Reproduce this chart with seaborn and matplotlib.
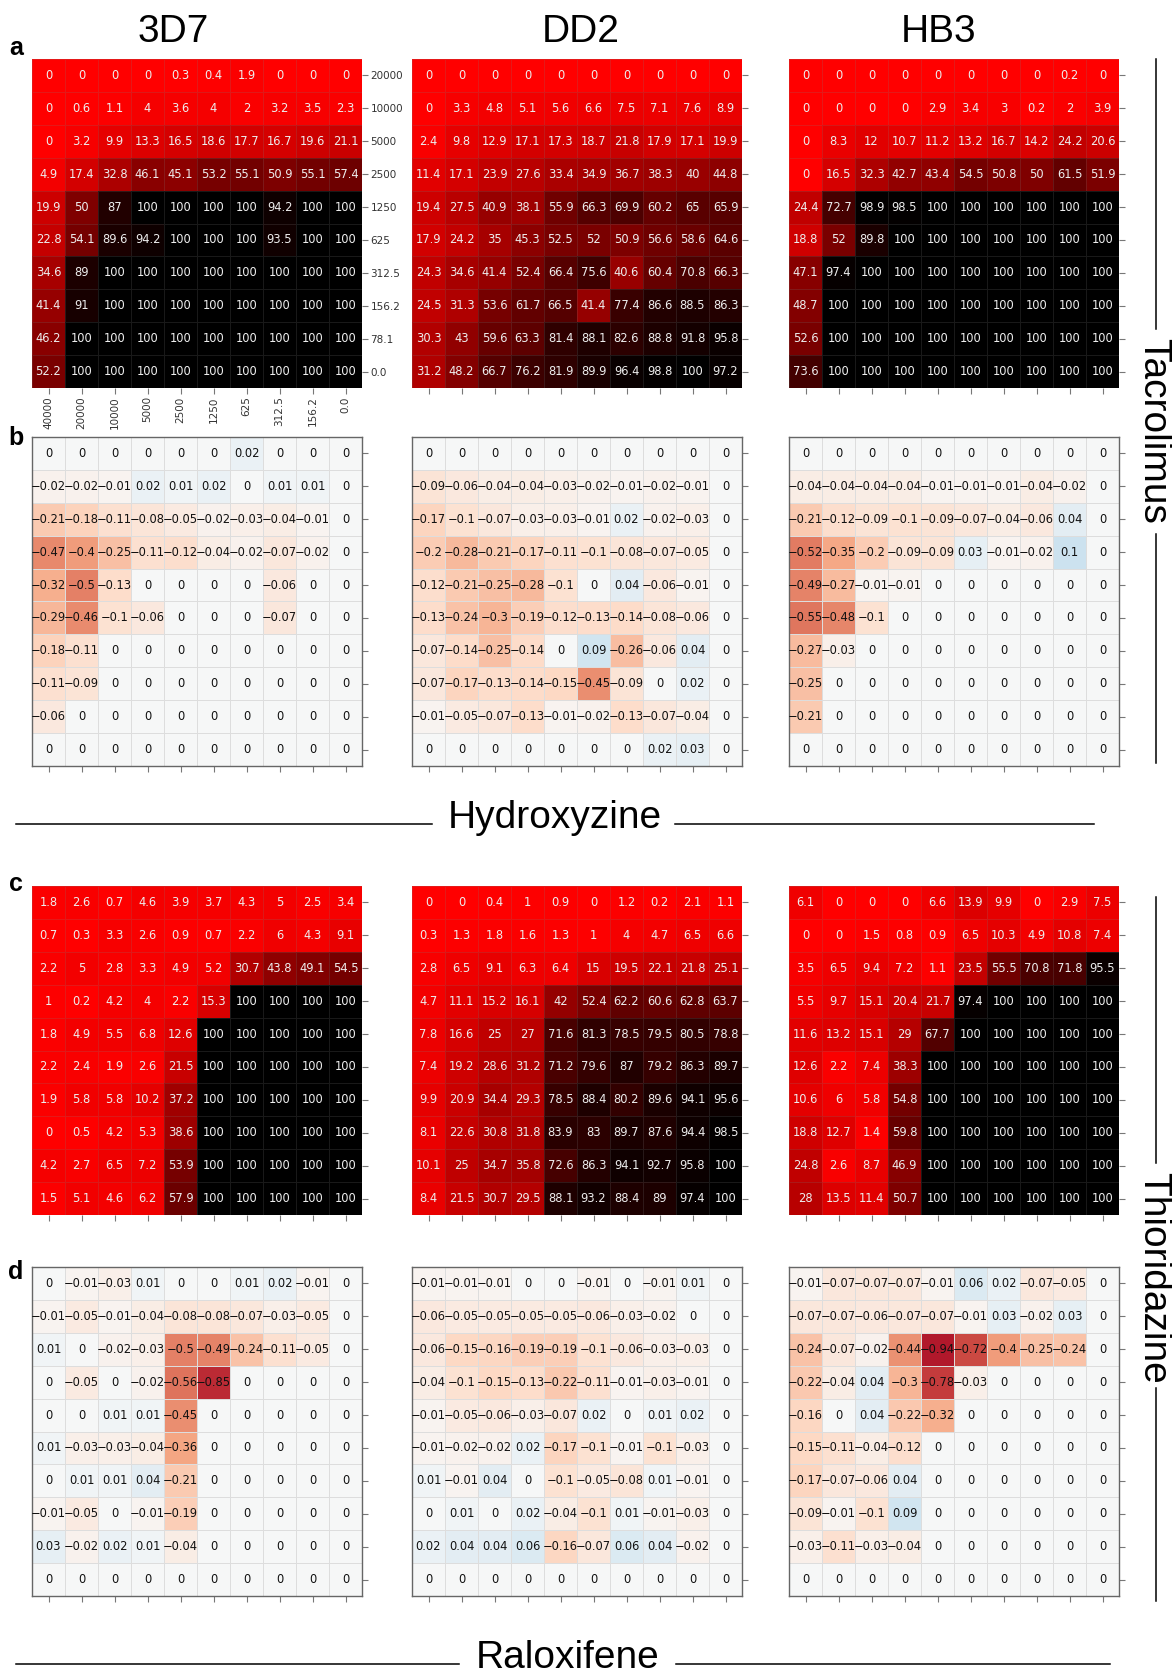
import numpy as np
import matplotlib.pyplot as plt
import seaborn as sns
from matplotlib.lines import Line2D
from matplotlib.colors import LinearSegmentedColormap, FuncNorm

# --- figure size in pixels ---
W, H = 1172, 1673

# --- concentration labels ---
y_conc = ["20000", "10000", "5000", "2500", "1250", "625", "312.5", "156.2", "78.1", "0.0"]
x_conc = ["40000", "20000", "10000", "5000", "2500", "1250", "625", "312.5", "156.2", "0.0"]
strains = ["3D7", "DD2", "HB3"]

# --- a: Tacrolimus x Hydroxyzine, growth inhibition (%) ---
tac_3d7 = [
    [0, 0, 0, 0, 0.3, 0.4, 1.9, 0, 0, 0],
    [0, 0.6, 1.1, 4, 3.6, 4, 2, 3.2, 3.5, 2.3],
    [0, 3.2, 9.9, 13.3, 16.5, 18.6, 17.7, 16.7, 19.6, 21.1],
    [4.9, 17.4, 32.8, 46.1, 45.1, 53.2, 55.1, 50.9, 55.1, 57.4],
    [19.9, 50, 87, 100, 100, 100, 100, 94.2, 100, 100],
    [22.8, 54.1, 89.6, 94.2, 100, 100, 100, 93.5, 100, 100],
    [34.6, 89, 100, 100, 100, 100, 100, 100, 100, 100],
    [41.4, 91, 100, 100, 100, 100, 100, 100, 100, 100],
    [46.2, 100, 100, 100, 100, 100, 100, 100, 100, 100],
    [52.2, 100, 100, 100, 100, 100, 100, 100, 100, 100],
]
tac_dd2 = [
    [0, 0, 0, 0, 0, 0, 0, 0, 0, 0],
    [0, 3.3, 4.8, 5.1, 5.6, 6.6, 7.5, 7.1, 7.6, 8.9],
    [2.4, 9.8, 12.9, 17.1, 17.3, 18.7, 21.8, 17.9, 17.1, 19.9],
    [11.4, 17.1, 23.9, 27.6, 33.4, 34.9, 36.7, 38.3, 40, 44.8],
    [19.4, 27.5, 40.9, 38.1, 55.9, 66.3, 69.9, 60.2, 65, 65.9],
    [17.9, 24.2, 35, 45.3, 52.5, 52, 50.9, 56.6, 58.6, 64.6],
    [24.3, 34.6, 41.4, 52.4, 66.4, 75.6, 40.6, 60.4, 70.8, 66.3],
    [24.5, 31.3, 53.6, 61.7, 66.5, 41.4, 77.4, 86.6, 88.5, 86.3],
    [30.3, 43, 59.6, 63.3, 81.4, 88.1, 82.6, 88.8, 91.8, 95.8],
    [31.2, 48.2, 66.7, 76.2, 81.9, 89.9, 96.4, 98.8, 100, 97.2],
]
tac_hb3 = [
    [0, 0, 0, 0, 0, 0, 0, 0, 0.2, 0],
    [0, 0, 0, 0, 2.9, 3.4, 3, 0.2, 2, 3.9],
    [0, 8.3, 12, 10.7, 11.2, 13.2, 16.7, 14.2, 24.2, 20.6],
    [0, 16.5, 32.3, 42.7, 43.4, 54.5, 50.8, 50, 61.5, 51.9],
    [24.4, 72.7, 98.9, 98.5, 100, 100, 100, 100, 100, 100],
    [18.8, 52, 89.8, 100, 100, 100, 100, 100, 100, 100],
    [47.1, 97.4, 100, 100, 100, 100, 100, 100, 100, 100],
    [48.7, 100, 100, 100, 100, 100, 100, 100, 100, 100],
    [52.6, 100, 100, 100, 100, 100, 100, 100, 100, 100],
    [73.6, 100, 100, 100, 100, 100, 100, 100, 100, 100],
]

# --- b: Tacrolimus x Hydroxyzine, difference from additivity ---
tac_diff_3d7 = [
    [0, 0, 0, 0, 0, 0, 0.02, 0, 0, 0],
    [-0.02, -0.02, -0.01, 0.02, 0.01, 0.02, 0, 0.01, 0.01, 0],
    [-0.21, -0.18, -0.11, -0.08, -0.05, -0.02, -0.03, -0.04, -0.01, 0],
    [-0.47, -0.4, -0.25, -0.11, -0.12, -0.04, -0.02, -0.07, -0.02, 0],
    [-0.32, -0.5, -0.13, 0, 0, 0, 0, -0.06, 0, 0],
    [-0.29, -0.46, -0.1, -0.06, 0, 0, 0, -0.07, 0, 0],
    [-0.18, -0.11, 0, 0, 0, 0, 0, 0, 0, 0],
    [-0.11, -0.09, 0, 0, 0, 0, 0, 0, 0, 0],
    [-0.06, 0, 0, 0, 0, 0, 0, 0, 0, 0],
    [0, 0, 0, 0, 0, 0, 0, 0, 0, 0],
]
tac_diff_dd2 = [
    [0, 0, 0, 0, 0, 0, 0, 0, 0, 0],
    [-0.09, -0.06, -0.04, -0.04, -0.03, -0.02, -0.01, -0.02, -0.01, 0],
    [-0.17, -0.1, -0.07, -0.03, -0.03, -0.01, 0.02, -0.02, -0.03, 0],
    [-0.2, -0.28, -0.21, -0.17, -0.11, -0.1, -0.08, -0.07, -0.05, 0],
    [-0.12, -0.21, -0.25, -0.28, -0.1, 0, 0.04, -0.06, -0.01, 0],
    [-0.13, -0.24, -0.3, -0.19, -0.12, -0.13, -0.14, -0.08, -0.06, 0],
    [-0.07, -0.14, -0.25, -0.14, 0, 0.09, -0.26, -0.06, 0.04, 0],
    [-0.07, -0.17, -0.13, -0.14, -0.15, -0.45, -0.09, 0, 0.02, 0],
    [-0.01, -0.05, -0.07, -0.13, -0.01, -0.02, -0.13, -0.07, -0.04, 0],
    [0, 0, 0, 0, 0, 0, 0, 0.02, 0.03, 0],
]
tac_diff_hb3 = [
    [0, 0, 0, 0, 0, 0, 0, 0, 0, 0],
    [-0.04, -0.04, -0.04, -0.04, -0.01, -0.01, -0.01, -0.04, -0.02, 0],
    [-0.21, -0.12, -0.09, -0.1, -0.09, -0.07, -0.04, -0.06, 0.04, 0],
    [-0.52, -0.35, -0.2, -0.09, -0.09, 0.03, -0.01, -0.02, 0.1, 0],
    [-0.49, -0.27, -0.01, -0.01, 0, 0, 0, 0, 0, 0],
    [-0.55, -0.48, -0.1, 0, 0, 0, 0, 0, 0, 0],
    [-0.27, -0.03, 0, 0, 0, 0, 0, 0, 0, 0],
    [-0.25, 0, 0, 0, 0, 0, 0, 0, 0, 0],
    [-0.21, 0, 0, 0, 0, 0, 0, 0, 0, 0],
    [0, 0, 0, 0, 0, 0, 0, 0, 0, 0],
]

# --- c: Thioridazine x Raloxifene, growth inhibition (%) ---
thio_3d7 = [
    [1.8, 2.6, 0.7, 4.6, 3.9, 3.7, 4.3, 5, 2.5, 3.4],
    [0.7, 0.3, 3.3, 2.6, 0.9, 0.7, 2.2, 6, 4.3, 9.1],
    [2.2, 5, 2.8, 3.3, 4.9, 5.2, 30.7, 43.8, 49.1, 54.5],
    [1, 0.2, 4.2, 4, 2.2, 15.3, 100, 100, 100, 100],
    [1.8, 4.9, 5.5, 6.8, 12.6, 100, 100, 100, 100, 100],
    [2.2, 2.4, 1.9, 2.6, 21.5, 100, 100, 100, 100, 100],
    [1.9, 5.8, 5.8, 10.2, 37.2, 100, 100, 100, 100, 100],
    [0, 0.5, 4.2, 5.3, 38.6, 100, 100, 100, 100, 100],
    [4.2, 2.7, 6.5, 7.2, 53.9, 100, 100, 100, 100, 100],
    [1.5, 5.1, 4.6, 6.2, 57.9, 100, 100, 100, 100, 100],
]
thio_dd2 = [
    [0, 0, 0.4, 1, 0.9, 0, 1.2, 0.2, 2.1, 1.1],
    [0.3, 1.3, 1.8, 1.6, 1.3, 1, 4, 4.7, 6.5, 6.6],
    [2.8, 6.5, 9.1, 6.3, 6.4, 15, 19.5, 22.1, 21.8, 25.1],
    [4.7, 11.1, 15.2, 16.1, 42, 52.4, 62.2, 60.6, 62.8, 63.7],
    [7.8, 16.6, 25, 27, 71.6, 81.3, 78.5, 79.5, 80.5, 78.8],
    [7.4, 19.2, 28.6, 31.2, 71.2, 79.6, 87, 79.2, 86.3, 89.7],
    [9.9, 20.9, 34.4, 29.3, 78.5, 88.4, 80.2, 89.6, 94.1, 95.6],
    [8.1, 22.6, 30.8, 31.8, 83.9, 83, 89.7, 87.6, 94.4, 98.5],
    [10.1, 25, 34.7, 35.8, 72.6, 86.3, 94.1, 92.7, 95.8, 100],
    [8.4, 21.5, 30.7, 29.5, 88.1, 93.2, 88.4, 89, 97.4, 100],
]
thio_hb3 = [
    [6.1, 0, 0, 0, 6.6, 13.9, 9.9, 0, 2.9, 7.5],
    [0, 0, 1.5, 0.8, 0.9, 6.5, 10.3, 4.9, 10.8, 7.4],
    [3.5, 6.5, 9.4, 7.2, 1.1, 23.5, 55.5, 70.8, 71.8, 95.5],
    [5.5, 9.7, 15.1, 20.4, 21.7, 97.4, 100, 100, 100, 100],
    [11.6, 13.2, 15.1, 29, 67.7, 100, 100, 100, 100, 100],
    [12.6, 2.2, 7.4, 38.3, 100, 100, 100, 100, 100, 100],
    [10.6, 6, 5.8, 54.8, 100, 100, 100, 100, 100, 100],
    [18.8, 12.7, 1.4, 59.8, 100, 100, 100, 100, 100, 100],
    [24.8, 2.6, 8.7, 46.9, 100, 100, 100, 100, 100, 100],
    [28, 13.5, 11.4, 50.7, 100, 100, 100, 100, 100, 100],
]

# --- d: Thioridazine x Raloxifene, difference from additivity ---
thio_diff_3d7 = [
    [0, -0.01, -0.03, 0.01, 0, 0, 0.01, 0.02, -0.01, 0],
    [-0.01, -0.05, -0.01, -0.04, -0.08, -0.08, -0.07, -0.03, -0.05, 0],
    [0.01, 0, -0.02, -0.03, -0.5, -0.49, -0.24, -0.11, -0.05, 0],
    [0, -0.05, 0, -0.02, -0.56, -0.85, 0, 0, 0, 0],
    [0, 0, 0.01, 0.01, -0.45, 0, 0, 0, 0, 0],
    [0.01, -0.03, -0.03, -0.04, -0.36, 0, 0, 0, 0, 0],
    [0, 0.01, 0.01, 0.04, -0.21, 0, 0, 0, 0, 0],
    [-0.01, -0.05, 0, -0.01, -0.19, 0, 0, 0, 0, 0],
    [0.03, -0.02, 0.02, 0.01, -0.04, 0, 0, 0, 0, 0],
    [0, 0, 0, 0, 0, 0, 0, 0, 0, 0],
]
thio_diff_dd2 = [
    [-0.01, -0.01, -0.01, 0, 0, -0.01, 0, -0.01, 0.01, 0],
    [-0.06, -0.05, -0.05, -0.05, -0.05, -0.06, -0.03, -0.02, 0, 0],
    [-0.06, -0.15, -0.16, -0.19, -0.19, -0.1, -0.06, -0.03, -0.03, 0],
    [-0.04, -0.1, -0.15, -0.13, -0.22, -0.11, -0.01, -0.03, -0.01, 0],
    [-0.01, -0.05, -0.06, -0.03, -0.07, 0.02, 0, 0.01, 0.02, 0],
    [-0.01, -0.02, -0.02, 0.02, -0.17, -0.1, -0.01, -0.1, -0.03, 0],
    [0.01, -0.01, 0.04, 0, -0.1, -0.05, -0.08, 0.01, -0.01, 0],
    [0, 0.01, 0, 0.02, -0.04, -0.1, 0.01, -0.01, -0.03, 0],
    [0.02, 0.04, 0.04, 0.06, -0.16, -0.07, 0.06, 0.04, -0.02, 0],
    [0, 0, 0, 0, 0, 0, 0, 0, 0, 0],
]
thio_diff_hb3 = [
    [-0.01, -0.07, -0.07, -0.07, -0.01, 0.06, 0.02, -0.07, -0.05, 0],
    [-0.07, -0.07, -0.06, -0.07, -0.07, -0.01, 0.03, -0.02, 0.03, 0],
    [-0.24, -0.07, -0.02, -0.44, -0.94, -0.72, -0.4, -0.25, -0.24, 0],
    [-0.22, -0.04, 0.04, -0.3, -0.78, -0.03, 0, 0, 0, 0],
    [-0.16, 0, 0.04, -0.22, -0.32, 0, 0, 0, 0, 0],
    [-0.15, -0.11, -0.04, -0.12, 0, 0, 0, 0, 0, 0],
    [-0.17, -0.07, -0.06, 0.04, 0, 0, 0, 0, 0, 0],
    [-0.09, -0.01, -0.1, 0.09, 0, 0, 0, 0, 0, 0],
    [-0.03, -0.11, -0.03, -0.04, 0, 0, 0, 0, 0, 0],
    [0, 0, 0, 0, 0, 0, 0, 0, 0, 0],
]

# --- panel layout (pixels: left, top) ---
col_x = [32, 412, 789]
row_y = {"a": 59, "b": 437, "c": 886, "d": 1267}
cell_w, cell_h = 330, 329

red_black = LinearSegmentedColormap.from_list("red_black", ["#ff0000", "#000000"])
label_font = ["Liberation Sans", "DejaVu Sans"]


# slightly compressive scale so strong antagonism stays crimson, not maroon
def _fwd(v):
    v = np.asarray(v, dtype=float)
    return np.where(v < 0, -0.42 * np.abs(v) ** 0.745, 0.6 * np.abs(v) ** 0.745)


def _inv(u):
    u = np.asarray(u, dtype=float)
    return np.where(u < 0, -(np.abs(u) / 0.42) ** (1 / 0.745), (np.abs(u) / 0.6) ** (1 / 0.745))


diff_norm = FuncNorm((_fwd, _inv), vmin=-(0.5 / 0.42) ** (1 / 0.745), vmax=(0.5 / 0.6) ** (1 / 0.745))


def cell_text(vals):
    return np.array([[f"{v:g}".replace("-", "\u2212") for v in row] for row in vals])


def px_axes(fig, x, y, w, h):
    return fig.add_axes([x / W, 1 - (y + h) / H, w / W, h / H])


def draw_panel(ax, vals, kind, with_labels=False):
    vals = np.array(vals, dtype=float)
    if kind == "growth":
        sns.heatmap(vals, ax=ax, cmap=red_black, vmin=0, vmax=100, cbar=False,
                    annot=cell_text(vals), fmt="",
                    annot_kws={"fontsize": 8.3, "color": "#eeeeee"},
                    linewidths=0.6, linecolor=(0.5, 0.5, 0.5, 0.2))
    else:
        sns.heatmap(vals, ax=ax, cmap="RdBu", norm=diff_norm,
                    cbar=False, annot=cell_text(vals), fmt="",
                    annot_kws={"fontsize": 8.3, "color": "#111111"},
                    linewidths=0.6, linecolor="#dddddd")
        for sp in ax.spines.values():
            sp.set_visible(True)
            sp.set_color("#666666")
            sp.set_linewidth(1.0)
    ax.yaxis.tick_right()
    ax.set_xticks(np.arange(10) + 0.5)
    ax.set_yticks(np.arange(10) + 0.5)
    if with_labels:
        ax.set_xticklabels(x_conc, rotation=90)
        ax.set_yticklabels(y_conc, rotation=0)
    else:
        ax.set_xticklabels([])
        ax.set_yticklabels([])
    ax.tick_params(axis="both", length=4, width=0.8, color="#777777",
                   labelsize=7.5, labelcolor="#333333", pad=2)
    ax.set_xlabel("")
    ax.set_ylabel("")


fig = plt.figure(figsize=(W / 100, H / 100), dpi=100)
fig.patch.set_facecolor("white")

panels = {
    "a": ([tac_3d7, tac_dd2, tac_hb3], "growth"),
    "b": ([tac_diff_3d7, tac_diff_dd2, tac_diff_hb3], "diff"),
    "c": ([thio_3d7, thio_dd2, thio_hb3], "growth"),
    "d": ([thio_diff_3d7, thio_diff_dd2, thio_diff_hb3], "diff"),
}
for key, (grids, kind) in panels.items():
    for i, grid in enumerate(grids):
        ax = px_axes(fig, col_x[i], row_y[key], cell_w, cell_h)
        draw_panel(ax, grid, kind, with_labels=(key == "a" and i == 0))


def fig_text(x, y, s, **kw):
    fig.text(x / W, 1 - y / H, s, **kw)


def fig_line(x0, y0, x1, y1):
    fig.add_artist(Line2D([x0 / W, x1 / W], [1 - y0 / H, 1 - y1 / H],
                          transform=fig.transFigure, color="black", lw=1.1))


# strain titles
for name, xc in zip(strains, [173, 581, 939]):
    fig_text(xc, 32, name, ha="center", va="center", fontsize=28, family=label_font)

# panel letters
for key, yc in zip("abcd", [48, 438, 884, 1272]):
    fig_text(16, yc, key, ha="center", va="center", fontsize=18, fontweight="bold",
             family=label_font)

# bottom drug labels with rules
fig_text(555, 828, "Hydroxyzine", ha="center", va="baseline", fontsize=28, family=label_font)
fig_line(16, 824, 432, 824)
fig_line(675, 824, 1094, 824)
fig_text(568, 1668, "Raloxifene", ha="center", va="baseline", fontsize=28, family=label_font)
fig_line(16, 1664, 459, 1664)
fig_line(676, 1664, 1110, 1664)

# right drug labels with rules
fig_text(1153, 431, "Tacrolimus", ha="center", va="center", rotation=-90, fontsize=28,
         family=label_font)
fig_line(1156, 59, 1156, 329)
fig_line(1156, 534, 1156, 763)
fig_text(1153, 1278, "Thioridazine", ha="center", va="center", rotation=-90, fontsize=28,
         family=label_font)
fig_line(1156, 897, 1156, 1163)
fig_line(1156, 1388, 1156, 1601)

fig.savefig("out.png", dpi=100)
